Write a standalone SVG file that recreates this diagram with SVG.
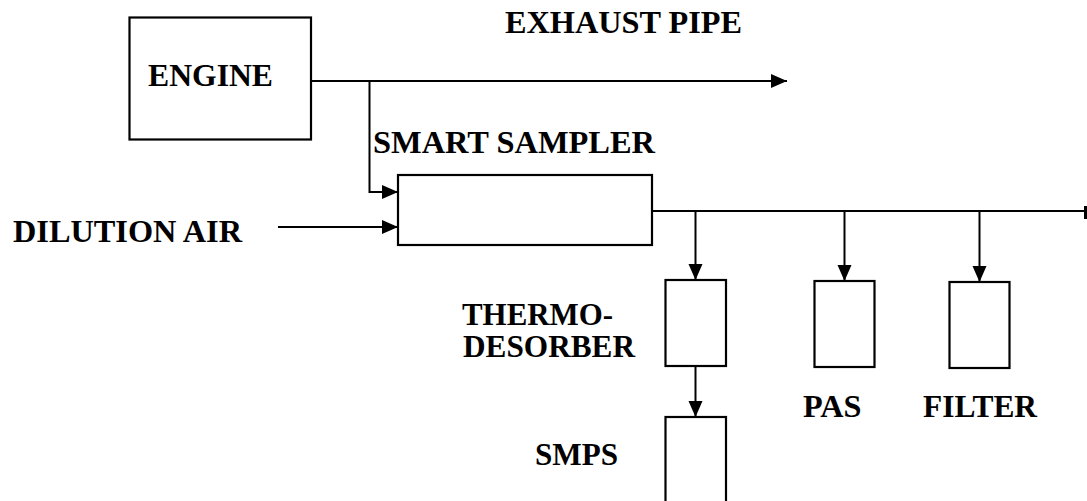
<svg xmlns="http://www.w3.org/2000/svg" width="1087" height="501" viewBox="0 0 1087 501">
<defs>
<style>
.box{fill:#fff;stroke:#000;stroke-width:2.2}
.ln{fill:none;stroke:#000;stroke-width:2}
text{font-family:'Liberation Serif','Times New Roman',Times,serif;font-weight:700;font-size:31.5px;fill:#000}
</style>
<marker id="ah" markerUnits="userSpaceOnUse" markerWidth="18" markerHeight="16" refX="16" refY="8" orient="auto">
<path d="M0,1 L16,8 L0,15 Z" fill="#000"/>
</marker>
</defs>
<rect width="1087" height="501" fill="#fff"/>
<g id="connectors">
<path class="ln" d="M311,81 H787" marker-end="url(#ah)"/>
<path class="ln" d="M369.5,81 V192 H398" marker-end="url(#ah)"/>
<path class="ln" d="M278,227 H398" marker-end="url(#ah)"/>
<path class="ln" d="M652,211 H1087"/>
<path d="M1084,206 L1087,206 L1087,219 L1084,219 Z" fill="#000"/>
<path class="ln" d="M695.5,211 V280" marker-end="url(#ah)"/>
<path class="ln" d="M844.5,212 V281" marker-end="url(#ah)"/>
<path class="ln" d="M979.5,212 V282" marker-end="url(#ah)"/>
<path class="ln" d="M695.5,366 V417" marker-end="url(#ah)"/>
</g>
<g id="engine">
<rect class="box" x="129.5" y="17.5" width="181.5" height="122"/>
<text x="148" y="86" font-family="Liberation Serif, serif" textLength="125" lengthAdjust="spacingAndGlyphs">ENGINE</text>
</g>
<g id="exhaust-pipe">
<text x="505" y="33" font-family="Liberation Serif, serif" textLength="237" lengthAdjust="spacingAndGlyphs">EXHAUST PIPE</text>
</g>
<g id="smart-sampler">
<rect class="box" x="398" y="175" width="254" height="70"/>
<text x="373" y="153" font-family="Liberation Serif, serif" textLength="282" lengthAdjust="spacingAndGlyphs">SMART SAMPLER</text>
</g>
<g id="dilution-air">
<text x="13" y="242" font-family="Liberation Serif, serif" textLength="229" lengthAdjust="spacingAndGlyphs">DILUTION AIR</text>
</g>
<g id="thermodesorber">
<rect class="box" x="665.5" y="280" width="60.5" height="86"/>
<text x="462" y="325" font-family="Liberation Serif, serif" textLength="151" lengthAdjust="spacingAndGlyphs">THERMO-</text>
<text x="463" y="357" font-family="Liberation Serif, serif" textLength="172" lengthAdjust="spacingAndGlyphs">DESORBER</text>
</g>
<g id="pas">
<rect class="box" x="814.5" y="281" width="60" height="86"/>
<text x="803" y="417" font-family="Liberation Serif, serif" textLength="58.5" lengthAdjust="spacingAndGlyphs">PAS</text>
</g>
<g id="filter">
<rect class="box" x="949.5" y="282" width="60" height="86"/>
<text x="923" y="417" font-family="Liberation Serif, serif" textLength="114" lengthAdjust="spacingAndGlyphs">FILTER</text>
</g>
<g id="smps">
<rect class="box" x="665.5" y="417" width="60.5" height="100"/>
<text x="535" y="465" font-family="Liberation Serif, serif" textLength="83" lengthAdjust="spacingAndGlyphs">SMPS</text>
</g>
</svg>
